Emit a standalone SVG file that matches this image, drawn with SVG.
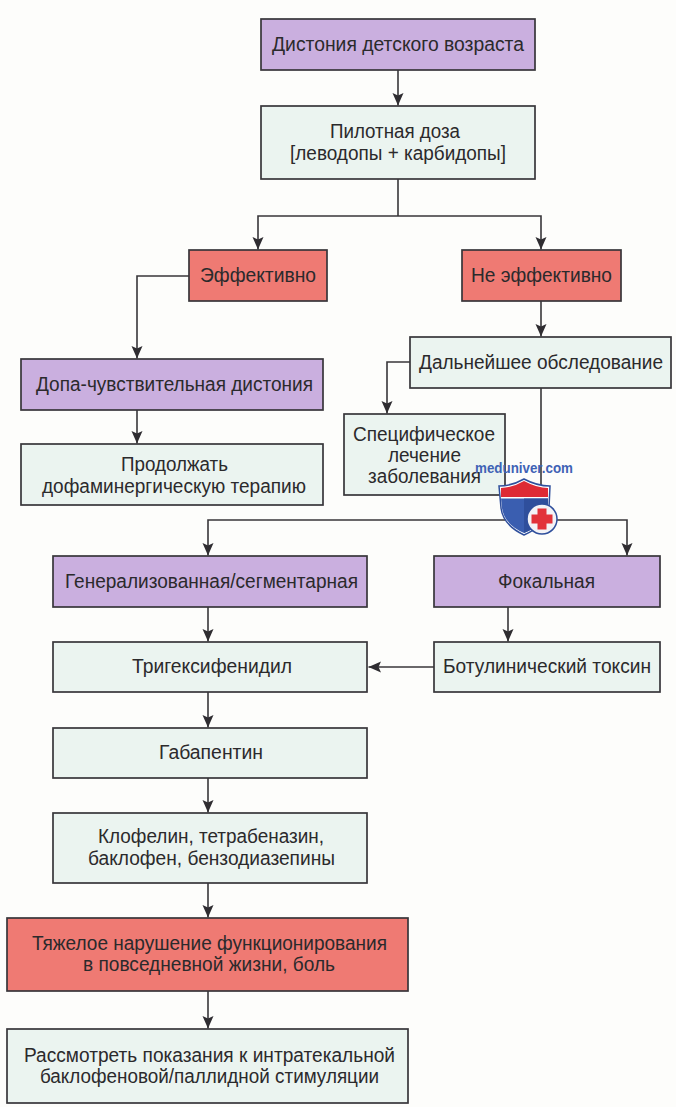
<svg xmlns="http://www.w3.org/2000/svg" width="676" height="1107" viewBox="0 0 676 1107">
<style>
.b{stroke:#38363a;stroke-width:1.7}
.p{fill:#caafdf}.g{fill:#ebf4f0}.r{fill:#ef7a73}
text{font-family:"Liberation Sans",Arial,sans-serif;font-size:20px;fill:#2b2a2c}
.c path{fill:none;stroke:#38363a;stroke-width:1.6}
</style>
<defs><marker id="a" markerUnits="userSpaceOnUse" markerWidth="13" markerHeight="12" refX="12.500" refY="5.500" orient="auto"><path d="M0 0L12.500 5.500L0 11L2.500 5.500Z" fill="#2f2d31"/></marker></defs>
<rect width="676" height="1107" fill="#fdfdfb"/>
<g class="c" id="connectors">
<path d="M398 70V105.500" marker-end="url(#a)"/>
<path d="M398 179V216"/>
<path d="M398 216H258V249.500" marker-end="url(#a)"/>
<path d="M398 216H541V249.500" marker-end="url(#a)"/>
<path d="M189 276H137V358.500" marker-end="url(#a)"/>
<path d="M541 301V336.500" marker-end="url(#a)"/>
<path d="M410 362H387V413.500" marker-end="url(#a)"/>
<path d="M541 388V520"/>
<path d="M541 520H208V555.500" marker-end="url(#a)"/>
<path d="M541 520H627V555.500" marker-end="url(#a)"/>
<path d="M137 410V443.500" marker-end="url(#a)"/>
<path d="M208 607V641.500" marker-end="url(#a)"/>
<path d="M508 607V641.500" marker-end="url(#a)"/>
<path d="M434 667H368.500" marker-end="url(#a)"/>
<path d="M208 692V727.500" marker-end="url(#a)"/>
<path d="M208 778V812.500" marker-end="url(#a)"/>
<path d="M208 883V917.500" marker-end="url(#a)"/>
<path d="M208 991V1028.500" marker-end="url(#a)"/>
</g>
<g id="n1"><rect class="b p" x="261" y="19" width="274" height="51"/><text x="272" y="51" textLength="252" lengthAdjust="spacingAndGlyphs">Дистония детского возраста</text></g>
<g id="n2"><rect class="b g" x="261" y="106" width="274" height="73"/><text x="330" y="138" textLength="130" lengthAdjust="spacingAndGlyphs">Пилотная доза</text><text x="290" y="160" textLength="216" lengthAdjust="spacingAndGlyphs">[леводопы + карбидопы]</text></g>
<g id="n3"><rect class="b r" x="189" y="250" width="138" height="51"/><text x="200" y="282" textLength="116" lengthAdjust="spacingAndGlyphs">Эффективно</text></g>
<g id="n4"><rect class="b r" x="462" y="250" width="159" height="51"/><text x="471" y="282" textLength="141" lengthAdjust="spacingAndGlyphs">Не эффективно</text></g>
<g id="n5"><rect class="b g" x="410" y="337" width="261" height="51"/><text x="419" y="369" textLength="244" lengthAdjust="spacingAndGlyphs">Дальнейшее обследование</text></g>
<g id="n6"><rect class="b p" x="21" y="359" width="302" height="51"/><text x="36" y="391" textLength="277" lengthAdjust="spacingAndGlyphs">Допа-чувствительная дистония</text></g>
<g id="n7"><rect class="b g" x="21" y="444" width="302" height="61"/><text x="121" y="471" textLength="107" lengthAdjust="spacingAndGlyphs">Продолжать</text><text x="42" y="493" textLength="264" lengthAdjust="spacingAndGlyphs">дофаминергическую терапию</text></g>
<g id="n8"><rect class="b g" x="344" y="414" width="161" height="81"/><text x="353" y="441" textLength="142" lengthAdjust="spacingAndGlyphs">Специфическое</text><text x="388" y="462" textLength="73" lengthAdjust="spacingAndGlyphs">лечение</text><text x="368" y="483" textLength="113" lengthAdjust="spacingAndGlyphs">заболевания</text></g>
<g id="n9"><rect class="b p" x="53" y="556" width="314" height="51"/><text x="65" y="588" textLength="293" lengthAdjust="spacingAndGlyphs">Генерализованная/сегментарная</text></g>
<g id="n10"><rect class="b p" x="434" y="556" width="226" height="51"/><text x="498" y="588" textLength="97" lengthAdjust="spacingAndGlyphs">Фокальная</text></g>
<g id="n11"><rect class="b g" x="53" y="642" width="314" height="50"/><text x="132" y="673" textLength="160" lengthAdjust="spacingAndGlyphs">Тригексифенидил</text></g>
<g id="n12"><rect class="b g" x="434" y="642" width="226" height="50"/><text x="443" y="673" textLength="208" lengthAdjust="spacingAndGlyphs">Ботулинический токсин</text></g>
<g id="n13"><rect class="b g" x="53" y="728" width="314" height="50"/><text x="159" y="759" textLength="104" lengthAdjust="spacingAndGlyphs">Габапентин</text></g>
<g id="n14"><rect class="b g" x="53" y="813" width="314" height="70"/><text x="98" y="843" textLength="226" lengthAdjust="spacingAndGlyphs">Клофелин, тетрабеназин,</text><text x="88" y="865" textLength="247" lengthAdjust="spacingAndGlyphs">баклофен, бензодиазепины</text></g>
<g id="n15"><rect class="b r" x="7" y="918" width="401" height="73"/><text x="32" y="950" textLength="355" lengthAdjust="spacingAndGlyphs">Тяжелое нарушение функционирования</text><text x="83" y="971" textLength="252" lengthAdjust="spacingAndGlyphs">в повседневной жизни, боль</text></g>
<g id="n16"><rect class="b g" x="7" y="1029" width="401" height="74"/><text x="24" y="1062" textLength="371" lengthAdjust="spacingAndGlyphs">Рассмотреть показания к интратекальной</text><text x="40" y="1083" textLength="339" lengthAdjust="spacingAndGlyphs">баклофеновой/паллидной стимуляции</text></g>
<g id="logo">
<path d="M524 479Q537 486 550 486L549 508Q547 525 524 535Q503 525 501 508L499 486Q512 486 524 479Z" fill="#fff" stroke="#2f4f9c" stroke-width="1.5"/>
<path d="M524 481Q537 488 548 488V497H501V488Q512 488 524 481Z" fill="#de2a35"/>
<path d="M501 498.500H548V508Q546 524 524 533Q504 524 502 508Z" fill="#3a5eb0"/>
<path d="M524 498.500H548V508Q546 524 524 533Z" fill="#2f4f9c"/>
<circle cx="542" cy="519" r="15" fill="#f3f3f6" stroke="#2f4f9c" stroke-width="1.5"/>
<path d="M537.500 508.500H546.500V514.500H552.500V523.500H546.500V529.500H537.500V523.500H531.500V514.500H537.500Z" fill="#e2323a"/>
<text x="475" y="473" textLength="98" lengthAdjust="spacingAndGlyphs" style="font-family:'Liberation Sans',sans-serif;font-size:14px;font-weight:bold;fill:#3f62b5">meduniver.com</text>
</g>
</svg>
